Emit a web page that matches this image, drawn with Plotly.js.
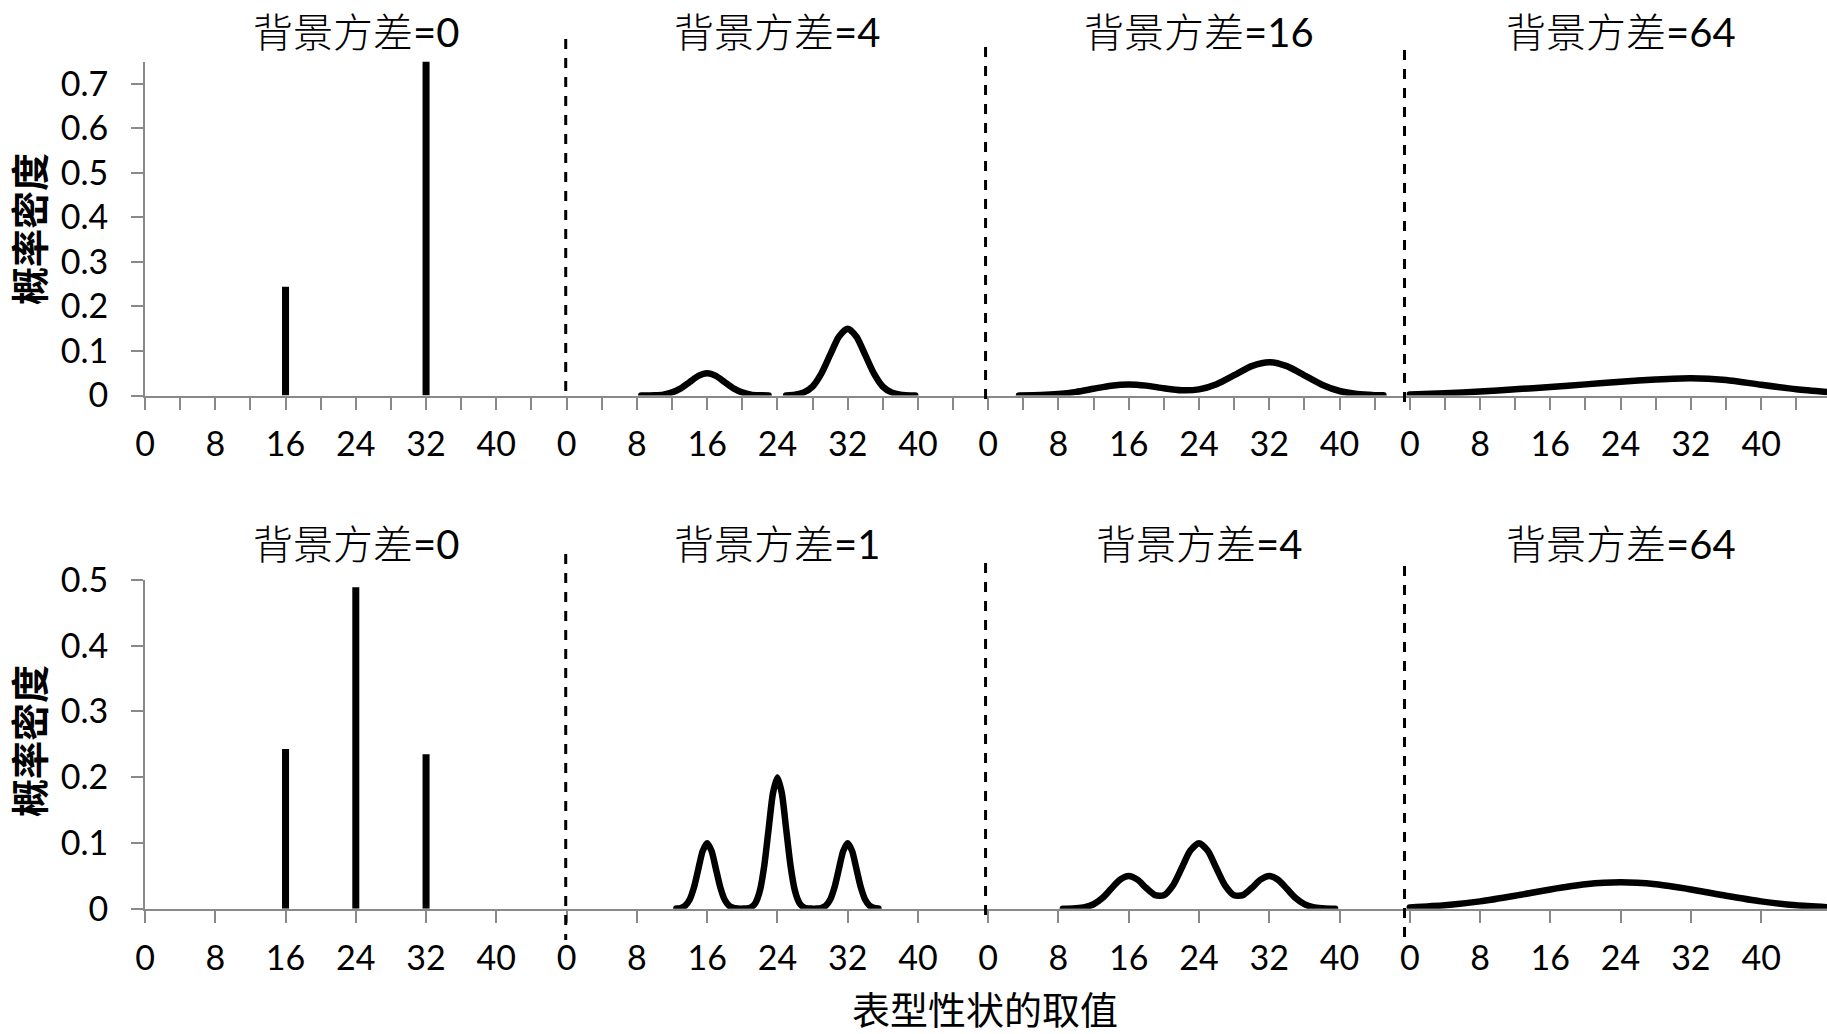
<!DOCTYPE html>
<html><head><meta charset="utf-8">
<script src="https://cdn.plot.ly/plotly-3.0.1.min.js"></script>
<style>
html,body{margin:0;padding:0;background:#fff}
#chart{width:1827px;height:1034px}
.js-line{stroke-linecap:round;stroke-linejoin:round}
</style>
</head><body><div id="chart"></div>
<script>
// ---------- data ----------
const panelWidth = 48;                      // each panel spans 0..48 on a shared axis
const panelTickLabels = ['0','8','16','24','32','40'];
const topMinorTicks = [4, 12, 20, 28, 36, 44];
const titlePrefix = '背景方差';
const topVariances = ['0', '4', '16', '64'];
const bottomVariances = ['0', '1', '4', '64'];
const yTitleText = '概率密度';
const xTitleText = '表型性状的取值';

// top row, panel 1 (背景方差=0): spikes
const topP1BarX = [16, 32];
const topP1BarY = [0.244, 0.75];
// top row, panel 2 (背景方差=4): two separate bumps
const topP2aX = [8.5, 10, 11, 12, 13, 14, 15, 16, 17, 18, 19, 20, 21, 22, 23];
const topP2aY = [0, 0.0006, 0.002, 0.007, 0.016, 0.030, 0.044, 0.050, 0.044, 0.030, 0.016, 0.007, 0.002, 0.0006, 0];
const topP2bX = [25, 26, 27, 28, 29, 30, 31, 32, 33, 34, 35, 36, 37, 38, 39.7];
const topP2bY = [0.0003, 0.002, 0.007, 0.020, 0.049, 0.091, 0.132, 0.150, 0.132, 0.091, 0.049, 0.020, 0.007, 0.002, 0];
// top row, panel 3 (背景方差=16)
const topP3X = [3.5, 6, 8, 10, 12, 14, 16, 18, 20, 22, 24, 26, 28, 30, 32, 34, 36, 38, 40, 42, 44, 45];
const topP3Y = [0.0002, 0.001, 0.0034, 0.0081, 0.0151, 0.022, 0.0249, 0.0222, 0.0162, 0.0118, 0.0138, 0.0254, 0.0456, 0.066, 0.0748, 0.066, 0.0454, 0.0243, 0.0101, 0.0033, 0.0008, 0.0004];
// top row, panel 4 (背景方差=64)
const topP4X = [0, 4, 8, 12, 16, 20, 24, 28, 32, 36, 40, 44, 47.5];
const topP4Y = [0.002, 0.005, 0.009, 0.014, 0.019, 0.025, 0.031, 0.036, 0.039, 0.035, 0.024, 0.014, 0.008];

// bottom row, panel 1 (背景方差=0): spikes
const botP1BarX = [16, 24, 32];
const botP1BarY = [0.243, 0.489, 0.235];
// bottom row, panel 2 (背景方差=1)
const botP2X = [12.5, 13, 13.5, 14, 14.5, 15, 15.5, 16, 16.5, 17, 17.5, 18, 18.5, 19, 19.5, 20, 20.5, 21, 21.5, 22, 22.5, 23, 23.5, 24, 24.5, 25, 25.5, 26, 26.5, 27, 27.5, 28, 28.5, 29, 29.5, 30, 30.5, 31, 31.5, 32, 32.5, 33, 33.5, 34, 34.5, 35, 35.5];
const botP2Y = [0.0002, 0.0011, 0.0044, 0.0135, 0.0324, 0.0605, 0.088, 0.0997, 0.088, 0.0605, 0.0324, 0.0135, 0.0044, 0.0011, 0.0002, 0.0001, 0.0004, 0.0022, 0.0088, 0.027, 0.065, 0.121, 0.176, 0.1995, 0.176, 0.121, 0.065, 0.027, 0.0088, 0.0022, 0.0004, 0.0001, 0.0002, 0.0011, 0.0044, 0.0135, 0.0324, 0.0605, 0.088, 0.0997, 0.088, 0.0605, 0.0324, 0.0135, 0.0044, 0.0011, 0.0002];
// bottom row, panel 3 (背景方差=4)
const botP3X = [8.5, 9, 10, 11, 12, 13, 14, 15, 16, 17, 18, 19, 20, 21, 22, 23, 24, 25, 26, 27, 28, 29, 30, 31, 32, 33, 34, 35, 36, 37, 38, 39, 39.5];
const botP3Y = [0, 0.0001, 0.0006, 0.0022, 0.0068, 0.0162, 0.0303, 0.044, 0.0499, 0.0442, 0.0314, 0.0206, 0.0203, 0.0346, 0.0611, 0.0881, 0.0997, 0.0881, 0.0611, 0.0346, 0.0203, 0.0206, 0.0314, 0.0442, 0.0499, 0.044, 0.0303, 0.0162, 0.0068, 0.0022, 0.0006, 0.0001, 0];
// bottom row, panel 4 (背景方差=64)
const botP4X = [0, 4, 8, 12, 16, 20, 24, 28, 32, 36, 40, 44, 47.5];
const botP4Y = [0.002, 0.0052, 0.0111, 0.0197, 0.0293, 0.0371, 0.0401, 0.0371, 0.0293, 0.0197, 0.0111, 0.0052, 0.0023];

// panel separators (shared-axis x position)
const separatorX = [47.9, 95.7, 143.4];

// ---------- helpers ----------
const W = 1827, H = 1034, ML = 145;
const plotW = W - ML;
const px2paperX = p => (p - ML) / plotW;
const px2paperY = p => (H - p) / H;
const shift = (xs, panel) => xs.map(x => x + panel * panelWidth);
const FONT = 'Lato, "Noto Sans CJK SC", sans-serif';
const CJK = '"Noto Sans CJK SC", Lato, sans-serif';
const AXC = '#898989';

function curve(xs, ys, panel, row) {
  return {
    type: 'scatter', mode: 'lines',
    x: shift(xs, panel), y: ys,
    xaxis: row === 'top' ? 'x2' : 'x', yaxis: row === 'top' ? 'y2' : 'y',
    line: {color: '#000', width: 6.5, shape: 'spline', smoothing: 0.7},
    hoverinfo: 'skip', showlegend: false
  };
}
function bars(xs, ys, panel, row) {
  return {
    type: 'bar', x: shift(xs, panel), y: ys, width: 0.8,
    xaxis: row === 'top' ? 'x2' : 'x', yaxis: row === 'top' ? 'y2' : 'y',
    marker: {color: '#000', line: {width: 0}},
    hoverinfo: 'skip', showlegend: false
  };
}

const traces = [
  bars(topP1BarX, topP1BarY, 0, 'top'),
  curve(topP2aX, topP2aY, 1, 'top'),
  curve(topP2bX, topP2bY, 1, 'top'),
  curve(topP3X, topP3Y, 2, 'top'),
  curve(topP4X, topP4Y, 3, 'top'),
  bars(botP1BarX, botP1BarY, 0, 'bottom'),
  curve(botP2X, botP2Y, 1, 'bottom'),
  curve(botP3X, botP3Y, 2, 'bottom'),
  curve(botP4X, botP4Y, 3, 'bottom')
];

// ticks
const labelVals = panelTickLabels.map(Number);
function buildTicks(withMinor) {
  const vals = [], text = [];
  for (let p = 0; p < 4; p++) {
    labelVals.forEach((v, i) => { vals.push(p * panelWidth + v); text.push(panelTickLabels[i]); });
    if (withMinor) topMinorTicks.forEach(v => { vals.push(p * panelWidth + v); text.push(''); });
  }
  return {vals, text};
}
const topTicks = buildTicks(true), botTicks = buildTicks(false);

const xRange = [0, 191.5];
const axBase = {
  showline: true, linecolor: AXC, linewidth: 2,
  ticks: 'outside', ticklen: 12, tickwidth: 2, tickcolor: AXC,
  showgrid: false, zeroline: false, fixedrange: true,
  tickfont: {family: FONT, size: 34, color: '#000'}
};
const layout = {
  width: W, height: H,
  margin: {l: ML, r: 0, t: 0, b: 0},
  paper_bgcolor: '#fff', plot_bgcolor: 'rgba(0,0,0,0)',
  showlegend: false, hovermode: false,
  font: {family: FONT, color: '#000'},
  xaxis: Object.assign({}, axBase, {domain: [0, 1], range: xRange, anchor: 'y',
    tickmode: 'array', tickvals: botTicks.vals, ticktext: botTicks.text, ticklabelstandoff: 6}),
  yaxis: Object.assign({}, axBase, {domain: [px2paperY(908.7), px2paperY(580)], range: [0, 0.5], anchor: 'x',
    dtick: 0.1, tick0: 0, ticklabelstandoff: 16}),
  xaxis2: Object.assign({}, axBase, {domain: [0, 1], range: xRange, anchor: 'y2',
    tickmode: 'array', tickvals: topTicks.vals, ticktext: topTicks.text, ticklabelstandoff: 6}),
  yaxis2: Object.assign({}, axBase, {domain: [px2paperY(395.5), px2paperY(61.5)], range: [0, 0.75], anchor: 'x2',
    dtick: 0.1, tick0: 0, ticklabelstandoff: 16}),
  shapes: [], annotations: []
};

// dashed separators
const sepTop = [[39, 395], [47, 400], [50, 403]];
const sepBot = [[554, 940], [563, 917], [566, 938]];
separatorX.forEach((x, i) => {
  [sepTop[i], sepBot[i]].forEach(([y0, y1]) => {
    layout.shapes.push({type: 'line', xref: 'x', yref: 'paper', x0: x, x1: x,
      y0: px2paperY(y0), y1: px2paperY(y1), line: {color: '#000', width: 3, dash: '10px,9px'}});
  });
});

// panel titles: light CJK, regular digits
const titleFont = {family: FONT, size: 40, color: '#000', weight: 300};
const titleText = v => titlePrefix + '<span style="font-weight:400">=' + v + '</span>';
topVariances.forEach((v, i) => layout.annotations.push({text: titleText(v), xref: 'x2', yref: 'paper',
  x: i * panelWidth + panelWidth / 2, y: px2paperY(32), xanchor: 'center', yanchor: 'middle',
  showarrow: false, font: titleFont}));
bottomVariances.forEach((v, i) => layout.annotations.push({text: titleText(v), xref: 'x', yref: 'paper',
  x: i * panelWidth + panelWidth / 2, y: px2paperY(544), xanchor: 'center', yanchor: 'middle',
  showarrow: false, font: titleFont}));
// axis titles
[229, 741].forEach(cy => layout.annotations.push({text: '<b>' + yTitleText + '</b>', xref: 'paper', yref: 'paper',
  x: px2paperX(27), y: px2paperY(cy), xanchor: 'center', yanchor: 'middle', textangle: -90,
  showarrow: false, font: {family: CJK, size: 38, color: '#000'}}));
layout.annotations.push({text: xTitleText, xref: 'paper', yref: 'paper',
  x: px2paperX(985), y: px2paperY(1007), xanchor: 'center', yanchor: 'middle',
  showarrow: false, font: {family: CJK, size: 38, color: '#000'}});

Plotly.newPlot('chart', traces, layout, {staticPlot: true, displayModeBar: false});
</script>
</body></html>
